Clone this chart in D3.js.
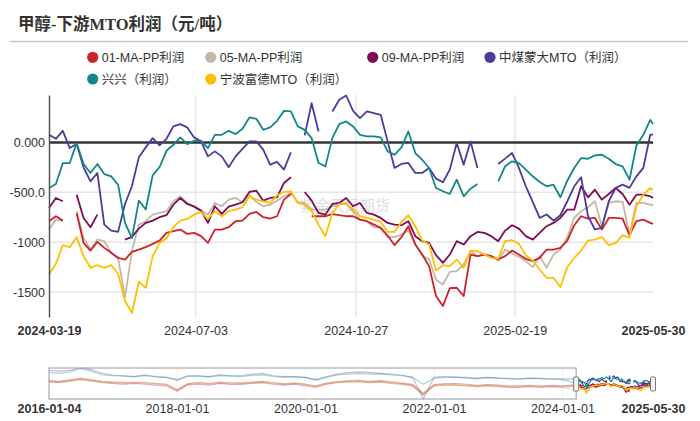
<!DOCTYPE html>
<html>
<head>
<meta charset="utf-8">
<script src="https://d3js.org/d3.v7.min.js"></script>
<style>
body { margin: 0; background: #fff; }
text { font-family: "Liberation Sans", Arial, "Noto Sans CJK SC", sans-serif; fill: #333; }
</style>
</head>
<body>
<script>
// series names / colours, in legend order
var names = ["01-MA-PP利润", "05-MA-PP利润", "09-MA-PP利润", "中煤蒙大MTO（利润）", "兴兴（利润）", "宁波富德MTO（利润）"];
var colors = ["#cc2229", "#c6b8a6", "#7d0c55", "#4b3b9b", "#12878a", "#ffc000"];

// main window: one reading every 5 days from 2024-03-19, last one on 2025-05-30
var startDay = "2024-03-19", endDay = "2025-05-30";

var ma01 = [-790, -740, -784, null, -710, -1007, -1084, -997, -1057, -1107,
    -1157, -1174, -1097, -1074, -1050, -1017, -984, -907, -890, -874,
    -917, -907, -940, -1007, -874, -874, -850, -790, -784, -717,
    -697, -750, -764, -740, -574, -517, null, null, -740, -740,
    -740, -720, -730, -740, -740, -774, -790, -824, -857, -934,
    -1030, -950, -840, -1024, -1124, -1240, -1540, -1640, -1460, -1457,
    -1540, -1124, -1140, -1124, -1140, -1174, -1140, -1084, -1124, -1167,
    -1190, -1157, -1074, -1074, -1057, -984, -830, -740, -764, -757,
    -874, -757, -757, -764, -930, -790, -774, -807, -817];

var ma05 = [-874, -774, -790, null, -690, -957, -1074, -974, -990, -1107,
    -1164, -1550, -1090, -824, -790, -724, -707, -690, -590, -540,
    -607, -640, -684, -724, -607, -640, -574, -557, -600, -530,
    -597, -640, -624, -584, -540, -507, -600, -607, -674, -674,
    -674, -640, -624, -607, -697, -774, -790, -850, -857, -950,
    -950, -924, -884, -1017, -1130, -1174, -1374, -1424, -1297, -1290,
    -1224, -1090, -1140, -1124, -1140, -1184, -1074, -1114, -1147, -1190,
    -1250, -1140, -1257, -1124, -1074, -950, -757, -690, -650, -590,
    -840, -607, -590, -597, -924, -607, -607, -624, -630];

var ma09 = [-657, -557, -590, null, -524, -757, -850, -724, null, null,
    null, -974, -947, -864, -807, -784, -750, -730, -624, -557,
    -617, -644, -684, -807, -640, -717, -644, -624, -600, -497,
    -484, -584, -557, -550, -407, -350, null, -497, -584, -707,
    -724, -617, -607, -557, -640, -607, -707, -724, -757, -807,
    -824, -830, -790, -940, -990, -1007, -1130, -1207, -1124, -990,
    -1024, -940, -897, -907, -940, -990, -884, -830, -864, -940,
    -974, -907, -840, -807, -757, -674, -674, -440, -550, -474,
    -574, -517, -457, -517, -624, -524, -524, -540, -557];

var zmmd = [76, 36, 116, -57, -17, -250, -390, -307, -824, -884,
    -897, -617, -440, -150, -50, 43, -30, 36, 160, 183,
    150, 50, 10, -140, -90, -140, -250, -140, -66, 10,
    10, -73, -223, -196, -273, -100, null, 70, 393, 110,
    null, 310, 427, 470, 316, 243, 310, 293, 277, 10,
    -256, -216, -206, -306, -306, -256, -363, -400, -273, -6,
    -223, 10, -256, null, null, -216, -163, -107, -256, -440,
    -596, -756, -723, -783, -730, -590, -440, -350, -740, -873,
    -856, -590, -456, -423, -456, -340, -256, 77, 77];

var xingxing = [-457, -417, -207, -207, -7, -217, -307, -217, -317, -340,
    -424, -807, -960, -583, -673, -330, -247, -84, -24, 50,
    -17, 17, 17, -57, 76, 76, 116, 83, 136, 250,
    236, 126, 150, 216, 316, 310, 160, 126, 43, -207,
    -240, 43, 183, 210, 160, 76, 60, 60, 50, -90,
    -124, -50, 110, -107, -174, -257, -457, -490, -517, -374,
    -540, -464, -417, null, null, -390, -240, -190, -207, -273,
    -340, -397, -440, -424, -550, -384, -257, -157, -164, -130,
    -124, -164, -217, -240, -374, -30, 76, 226, 183];

var nbfd = [-1324, -1217, -1030, -1050, -950, -1140, -1257, -1230, -1257, -1230,
    -1317, -1590, -1710, -1397, -1457, -1140, -1007, -964, -850, -784,
    -767, -724, -697, -767, -690, -740, -690, -674, -650, -540,
    -574, -590, -607, -530, -497, -490, -607, -624, -690, -824,
    -940, -707, -617, -617, -670, -740, -757, -774, -797, -897,
    -897, -797, -730, -840, -984, -1024, -1284, -1230, -1240, -1174,
    -1257, -1084, -1090, -1124, -1157, -1164, -990, -980, -1017, -1134,
    -1184, -1274, -1357, -1357, -1450, -1250, -1157, -1084, -984, -974,
    -950, -1030, -1010, -930, -957, -640, -524, -457, -474];

// longer history for the navigator strip, one reading every 2 months 2016-01 .. 2024-01
var histStart = "2016-01-04";
var hist01 = [-300, -400, -200, 0, -200, -400, -500, -600, -500, -600, -700, -800, -1500, -700, -600, -700, -500,
    -600, -600, -500, -400, -600, -700, -600, -800, -1000, -600, -400, -300, -300, -400, -300, -500, -600,
    -800, -2000, -800, -700, -700, -800, -900, -800, -900, -1000, -1000, -900, -1000, -900, -1000];
var hist05 = [-200, -300, -150, 50, -100, -300, -450, -500, -450, -500, -600, -700, -1400, -650, -500, -650, -450,
    -550, -550, -450, -350, -500, -650, -550, -700, -950, -550, -350, -250, -250, -350, -250, -450, -550,
    -750, -1900, -750, -650, -650, -750, -850, -750, -850, -950, -900, -850, -950, -850, -950];
var hist09 = [-150, -250, -50, 150, -50, -250, -350, -400, -350, -400, -500, -600, -1300, -550, -400, -500, -350,
    -400, -450, -350, -250, -400, -550, -450, -600, -800, -450, -250, -150, -100, -250, -150, -300, -450,
    -650, -1800, -650, -550, -500, -600, -750, -650, -700, -850, -800, -750, -850, -750, -800];
var histZm = [1200, 1100, 1200, 1500, 1300, 800, 600, 500, 400, 600, 400, 300, 0, 500, 500, 400, 600,
    500, 500, 700, 800, 500, 400, 400, 300, 0, 400, 700, 900, 1000, 900, 800, 700, 600,
    300, -2500, 300, 400, 300, 300, 200, 300, 200, 150, 100, 200, 150, 100, 100];
var histXx = [900, 800, 1000, 1400, 1100, 600, 500, 450, 400, 500, 350, 300, -100, 400, 450, 350, 500,
    450, 400, 550, 600, 400, 300, 350, 250, -50, 300, 600, 700, 800, 700, 750, 600, 500,
    300, -600, 200, 300, 350, 200, 100, 250, 200, 100, 50, 150, 100, 50, 0];
var histNb = [-100, -200, 0, 200, 0, -200, -300, -300, -400, -300, -500, -600, -1300, -500, -400, -500, -300,
    -400, -400, -300, -200, -400, -500, -400, -600, -900, -500, -300, -200, -100, -200, -100, -300, -400,
    -600, -1700, -700, -600, -600, -700, -800, -700, -800, -900, -900, -800, -900, -900, -1000];

// axis ticks
var yTicks = [0, -500, -1000, -1500];
var yTickLabels = ["0.000", "-500.0", "-1000", "-1500"];
var xTicks = ["2024-03-19", "2024-07-03", "2024-10-27", "2025-02-19", "2025-05-30"];
var navTicks = ["2016-01-04", "2018-01-01", "2020-01-01", "2022-01-01", "2024-01-01", "2025-05-30"];

var parseDate = d3.timeParse("%Y-%m-%d");
var fmt = d3.timeFormat("%Y-%m-%d");

// x categories
var dates = d3.timeDay.range(parseDate(startDay), parseDate(endDay), 5);
dates.push(parseDate(endDay));
var histDates = [parseDate(histStart)].concat(
    d3.timeMonth.every(2).range(new Date(2016, 2, 1), new Date(2024, 1, 1)));

var mainSeries = [ma01, ma05, ma09, zmmd, xingxing, nbfd];
var histSeries = [hist01, hist05, hist09, histZm, histXx, histNb];

var width = 700, height = 421;
var plot = {left: 49, right: 653, top: 95, bottom: 317};
var nav = {top: 368, bottom: 399};

var svg = d3.select("body").append("svg")
    .attr("width", width)
    .attr("height", height);

// title + rule
svg.append("text")
    .attr("x", 18)
    .attr("y", 30)
    .style("font-family", "'Liberation Serif', 'Noto Sans CJK SC', serif")
    .style("font-weight", "bold")
    .style("font-size", "16.5px")
    .text("甲醇-下游MTO利润（元/吨）");

svg.append("line")
    .attr("x1", 10).attr("x2", 688)
    .attr("y1", 41.5).attr("y2", 41.5)
    .attr("stroke", "#c8c8c8")
    .attr("stroke-width", 1.5);

// legend
var legendPos = [[92.7, 57.3], [210.7, 57.3], [372.7, 57.3], [490, 57.3], [92.7, 79], [210.7, 79]];
var legend = svg.append("g").selectAll("g")
    .data(names)
    .enter().append("g")
    .attr("transform", function(d, i) { return "translate(" + legendPos[i][0] + "," + legendPos[i][1] + ")"; });
legend.append("circle")
    .attr("r", 5.6)
    .attr("fill", function(d, i) { return colors[i]; });
legend.append("text")
    .attr("x", 9)
    .attr("y", 4.5)
    .style("font-size", "12.5px")
    .text(function(d) { return d; });

// scales
var x = d3.scaleTime()
    .domain([parseDate(startDay), parseDate(endDay)])
    .range([plot.left, plot.right]);
var y = d3.scaleLinear()
    .domain([-1750, 475])
    .range([plot.bottom, plot.top]);

// grid
svg.append("g").selectAll("line")
    .data(yTicks.filter(function(d) { return d !== 0; }))
    .enter().append("line")
    .attr("x1", plot.left).attr("x2", plot.right)
    .attr("y1", function(d) { return y(d); })
    .attr("y2", function(d) { return y(d); })
    .attr("stroke", "#e6e6e6")
    .attr("stroke-width", 1.5);

svg.append("g").selectAll("line")
    .data(xTicks.slice(1, -1))
    .enter().append("line")
    .attr("x1", function(d) { return x(parseDate(d)); })
    .attr("x2", function(d) { return x(parseDate(d)); })
    .attr("y1", plot.top).attr("y2", plot.bottom)
    .attr("stroke", "#e6e6e6")
    .attr("stroke-width", 1.5);

svg.append("line")
    .attr("x1", plot.left).attr("x2", plot.right)
    .attr("y1", y(0)).attr("y2", y(0))
    .attr("stroke", "#333")
    .attr("stroke-width", 2.5);

// watermark
svg.append("text")
    .attr("x", 345)
    .attr("y", 211)
    .attr("text-anchor", "middle")
    .style("font-size", "15px")
    .style("fill", "#c8c8c8")
    .style("opacity", 0.6)
    .text("紫金天风期货");

// series lines
var line = d3.line()
    .defined(function(d) { return d != null; })
    .x(function(d, i) { return x(dates[i]); })
    .y(function(d) { return y(d); });

var drawOrder = [1, 0, 2, 3, 4, 5];
svg.append("g").selectAll("path")
    .data(drawOrder)
    .enter().append("path")
    .attr("fill", "none")
    .attr("stroke", function(k) { return colors[k]; })
    .attr("stroke-width", 1.8)
    .attr("stroke-linejoin", "round")
    .attr("d", function(k) { return line(mainSeries[k]); });

// y axis
var yAxis = svg.append("g")
    .attr("transform", "translate(" + plot.left + ",0)")
    .call(d3.axisLeft(y)
        .tickValues(yTicks)
        .tickFormat(function(d, i) { return yTickLabels[i]; })
        .tickSize(0)
        .tickPadding(4));
yAxis.select(".domain").attr("stroke", "#555").attr("stroke-width", 1.5);
yAxis.selectAll("text").style("font-size", "12.5px").style("fill", "#333");

// x axis
var xAxis = svg.append("g")
    .attr("transform", "translate(0," + plot.bottom + ")")
    .call(d3.axisBottom(x)
        .tickValues(xTicks.map(parseDate))
        .tickFormat(fmt)
        .tickSize(0)
        .tickPadding(9));
xAxis.select(".domain").remove();
xAxis.selectAll("text")
    .style("font-size", "12.5px")
    .style("fill", "#333")
    .style("font-weight", function(d, i) { return (i === 0 || i === xTicks.length - 1) ? "bold" : "normal"; });

// navigator
var navX = d3.scaleTime()
    .domain([parseDate(histStart), parseDate(endDay)])
    .range([plot.left, plot.right]);
var navY = d3.scaleLinear()
    .domain([-2500, 1500])
    .range([nav.bottom, nav.top]);
var selX = navX(parseDate(startDay));

var allDates = histDates.concat(dates);
var navLine = d3.line()
    .defined(function(d) { return d != null; })
    .x(function(d, i) { return navX(allDates[i]); })
    .y(function(d) { return navY(d); });

var defs = svg.append("defs");
defs.append("clipPath").attr("id", "navOut")
    .append("rect")
    .attr("x", plot.left).attr("y", nav.top - 5)
    .attr("width", selX - plot.left).attr("height", nav.bottom - nav.top + 10);
defs.append("clipPath").attr("id", "navIn")
    .append("rect")
    .attr("x", selX).attr("y", nav.top - 5)
    .attr("width", plot.right - selX).attr("height", nav.bottom - nav.top + 10);

svg.append("g").selectAll("line")
    .data(navTicks.slice(1, -1))
    .enter().append("line")
    .attr("x1", function(d) { return navX(parseDate(d)); })
    .attr("x2", function(d) { return navX(parseDate(d)); })
    .attr("y1", nav.top).attr("y2", nav.bottom)
    .attr("stroke", "#f0f0f0");

svg.append("g").attr("clip-path", "url(#navOut)")
    .selectAll("path")
    .data(drawOrder)
    .enter().append("path")
    .attr("fill", "none")
    .attr("stroke", function(k) { return colors[k]; })
    .attr("stroke-opacity", 0.35)
    .attr("stroke-width", 1.2)
    .attr("d", function(k) { return navLine(histSeries[k].concat(mainSeries[k])); });

svg.append("g").attr("clip-path", "url(#navIn)")
    .selectAll("path")
    .data(drawOrder)
    .enter().append("path")
    .attr("fill", "none")
    .attr("stroke", function(k) { return colors[k]; })
    .attr("stroke-width", 1.2)
    .attr("d", function(k) { return navLine(histSeries[k].concat(mainSeries[k])); });

svg.append("rect")
    .attr("x", plot.left).attr("y", nav.top)
    .attr("width", selX - plot.left).attr("height", nav.bottom - nav.top)
    .attr("fill", "none")
    .attr("stroke", "#999")
    .attr("stroke-width", 1);

svg.append("g").selectAll("rect")
    .data([selX, plot.right])
    .enter().append("rect")
    .attr("x", function(d) { return d - 2.5; })
    .attr("y", 377)
    .attr("width", 5)
    .attr("height", 14)
    .attr("rx", 1)
    .attr("fill", "#f4f4f4")
    .attr("stroke", "#777")
    .attr("stroke-width", 1);

var navAxis = svg.append("g")
    .attr("transform", "translate(0," + nav.bottom + ")")
    .call(d3.axisBottom(navX)
        .tickValues(navTicks.map(parseDate))
        .tickFormat(fmt)
        .tickSize(0)
        .tickPadding(5));
navAxis.select(".domain").remove();
navAxis.selectAll("text")
    .style("font-size", "12.5px")
    .style("fill", "#333")
    .style("font-weight", function(d, i) { return (i === 0 || i === navTicks.length - 1) ? "bold" : "normal"; });
</script>
</body>
</html>
